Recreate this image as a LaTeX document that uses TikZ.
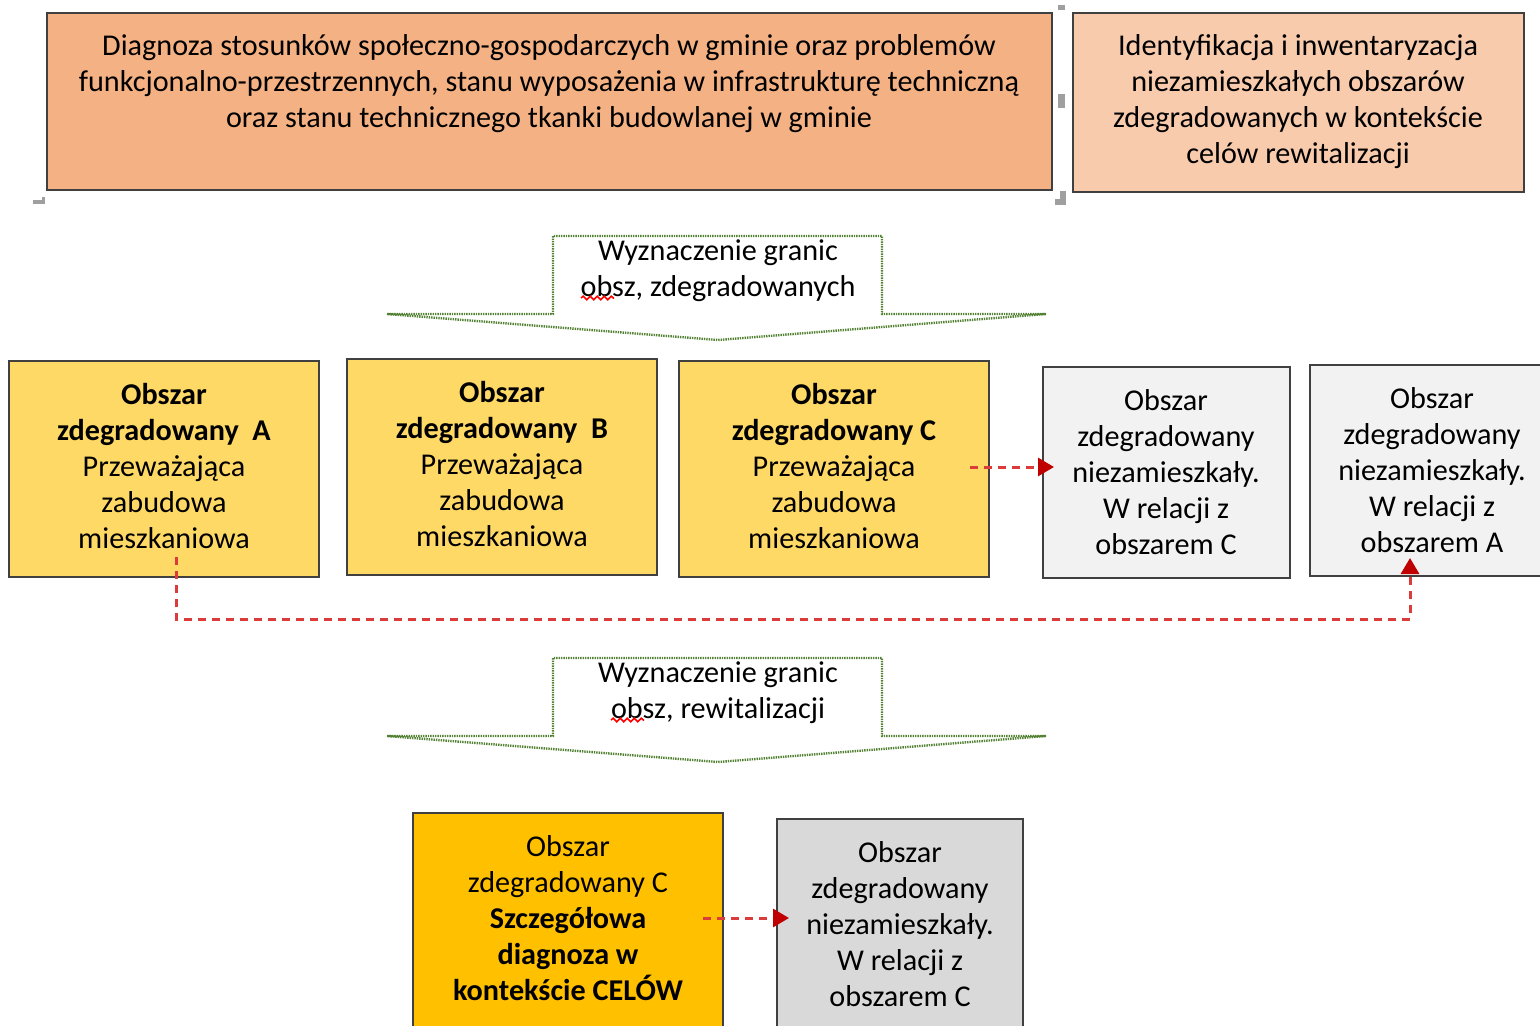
\documentclass[tikz,border=0pt]{standalone}
\usepackage{fontspec}
\setmainfont{Carlito}
\usetikzlibrary{arrows.meta,decorations.pathmorphing,calc,fit}
\definecolor{topA}{RGB}{244,177,131}
\definecolor{topB}{RGB}{248,203,173}
\definecolor{yel}{RGB}{255,217,102}
\definecolor{gold}{RGB}{255,192,0}
\definecolor{lgray}{RGB}{242,242,242}
\definecolor{mgray}{RGB}{217,217,217}
\definecolor{edge}{RGB}{64,64,64}
\definecolor{dred}{RGB}{192,0,0}
\definecolor{lred}{RGB}{218,60,60}
\definecolor{dgreen}{RGB}{84,130,53}
\begin{document}
\begin{tikzpicture}[x=0.5pt,y=-0.5pt,
  box/.style={draw=edge,line width=1pt,inner sep=0pt},
  txt/.style={align=center,inner sep=0pt,font=\fontsize{15.1}{18}\selectfont},
  link/.style={draw=lred,line width=1.5pt,dash pattern=on 4pt off 3pt,
    -{Triangle[length=8pt,width=9pt,color=dred]}},
  bigarrow/.style={draw=dgreen,line width=1.2pt,dash pattern=on 0.7pt off 0.5pt},
  handle/.style={fill=gray!75,draw=none},
  wavy/.style={draw=red,line width=0.8pt,decorate,decoration={snake,segment length=3.5pt,amplitude=0.9pt}}]
\useasboundingbox (0,0) rectangle (1540,1026);
\clip (0,0) rectangle (1540,1026);

% top boxes
\node[box,fill=topA,fit={(47,13) (1052,190)}] (top1) {};
\node[txt] (top1t) at (549,84) {Diagnoza stosunków społeczno-gospodarczych w gminie oraz problemów\\
funkcjonalno-przestrzennych, stanu wyposażenia w infrastrukturę techniczną\\
oraz stanu technicznego tkanki budowlanej w gminie};
\node[box,fill=topB,fit={(1073,13) (1524,192)}] (top2) {};
\node[txt] (top2t) at (1298,102) {Identyfikacja i inwentaryzacja\\niezamieszkałych obszarów\\zdegradowanych w kontekście\\celów rewitalizacji};

% selection handles
\fill[handle] (33,200) rectangle (45,204);
\fill[handle] (42,197) rectangle (45,204);
\fill[handle] (1058,5) rectangle (1065,10);
\fill[handle] (1058,94) rectangle (1065,108);
\fill[handle] (1060,191) rectangle (1066,205);
\fill[handle] (1055,199) rectangle (1066,205);

% first block arrow
\draw[bigarrow] (387,314) -- (553,314) -- (553,236) -- (882,236) -- (882,314) -- (1046,314) -- (718,340) -- cycle;
\node[txt] (ar1t) at (718,271) {Wyznaczenie granic\\obsz, zdegradowanych};
\draw[wavy] (581,298) -- (614,298);

% row of areas
\node[box,fill=yel,fit={(9,361) (319,577)}] (A) {};
\node[txt] (At) at (164,466) {\textbf{Obszar}\\\textbf{zdegradowany~~A}\\Przeważająca\\zabudowa\\mieszkaniowa};
\node[box,fill=yel,fit={(347,359) (657,575)}] (B) {};
\node[txt] (Bt) at (502,464) {\textbf{Obszar}\\\textbf{zdegradowany~~B}\\Przeważająca\\zabudowa\\mieszkaniowa};
\node[box,fill=yel,fit={(679,361) (989,577)}] (C) {};
\node[txt] (Ct) at (834,466) {\textbf{Obszar}\\\textbf{zdegradowany C}\\Przeważająca\\zabudowa\\mieszkaniowa};
\node[box,fill=lgray,fit={(1043,367) (1290,578)}] (D) {};
\node[txt] (Dt) at (1166,472) {Obszar\\zdegradowany\\niezamieszkały.\\W relacji z\\obszarem C};
\node[box,fill=lgray,fit={(1310,365) (1560,576)}] (E) {};
\node[txt] (Et) at (1432,470) {Obszar\\zdegradowany\\niezamieszkały.\\W relacji z\\obszarem A};

% connectors
\coordinate (cs) at (970,467);
\draw[link,shorten >=-6pt] (cs) -- (cs -| D.west);
\coordinate (as) at (176,557);
\coordinate (ee) at (1410,558);
\draw[link] (as) -- ++(0,62) -| (ee);

% second block arrow
\draw[bigarrow] (387,736) -- (553,736) -- (553,658) -- (882,658) -- (882,736) -- (1046,736) -- (718,762) -- cycle;
\node[txt] (ar2t) at (718,693) {Wyznaczenie granic\\obsz, rewitalizacji};
\draw[wavy] (611,720) -- (644,720);

% bottom boxes
\node[box,fill=gold,fit={(413,813) (723,1040)}] (F) {};
\node[txt] (Ft) at (568,918) {Obszar\\zdegradowany C\\\textbf{Szczegółowa}\\\textbf{diagnoza w}\\\textbf{kontekście CELÓW}};
\node[box,fill=mgray,fit={(777,819) (1023,1040)}] (G) {};
\node[txt] (Gt) at (900,924) {Obszar\\zdegradowany\\niezamieszkały.\\W relacji z\\obszarem C};
\coordinate (fs) at (703,918);
\draw[link,shorten >=-6.5pt] (fs) -- (fs -| G.west);
\end{tikzpicture}
\end{document}
